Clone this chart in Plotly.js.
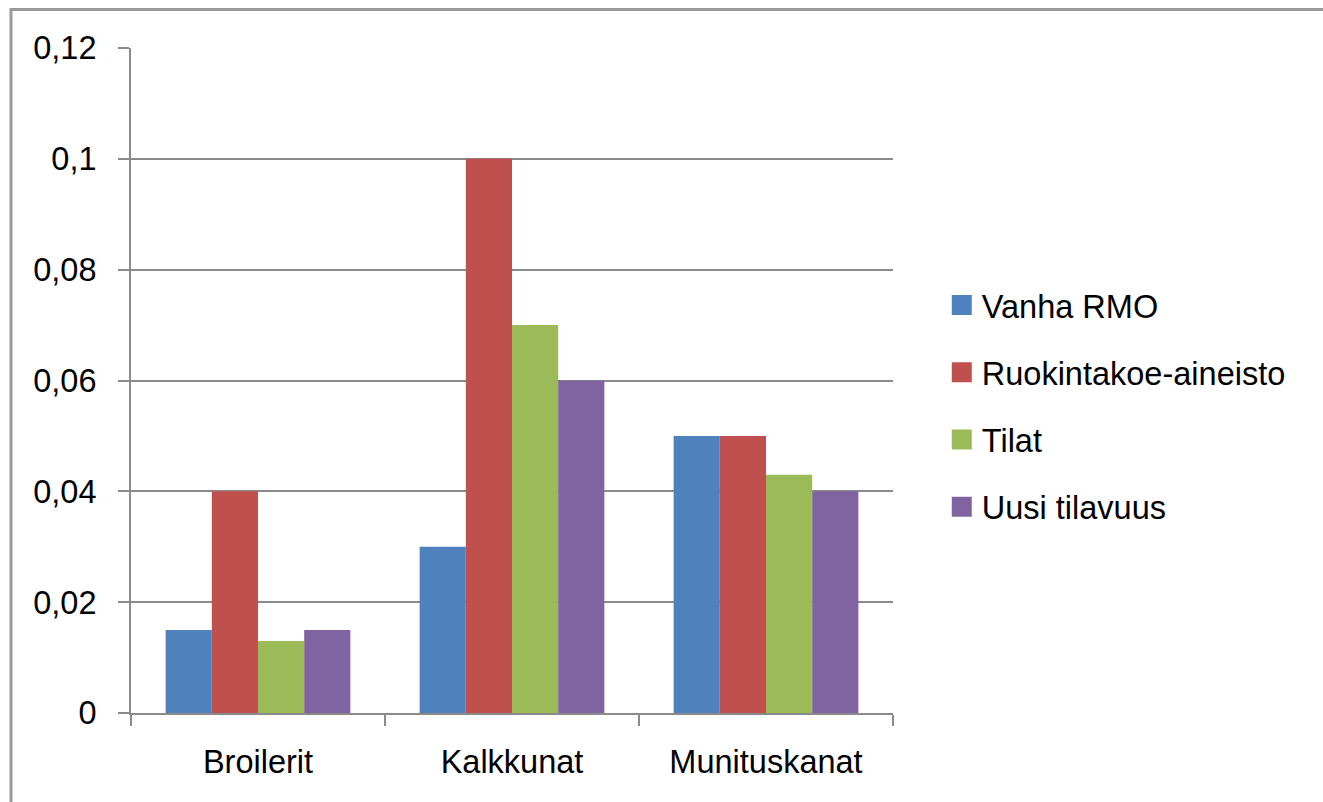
<!DOCTYPE html>
<html>
<head>
<meta charset="utf-8">
<script src="https://cdn.plot.ly/plotly-3.0.1.min.js"></script>
<style>
html,body{margin:0;padding:0;background:#fff;}
#chart{width:1323px;height:802px;}
</style>
</head>
<body>
<div id="chart"></div>
<script>
var categories = ["Broilerit", "Kalkkunat", "Munituskanat"];
var seriesNames = ["Vanha RMO", "Ruokintakoe-aineisto", "Tilat", "Uusi tilavuus"];
var vanhaRMO = [0.015, 0.03, 0.05];
var ruokintakoe = [0.04, 0.1, 0.05];
var tilat = [0.013, 0.07, 0.043];
var uusiTilavuus = [0.015, 0.06, 0.04];
var colors = ["#4F81BD", "#C0504D", "#9BBB59", "#8064A2"];

var values = [vanhaRMO, ruokintakoe, tilat, uusiTilavuus];
var traces = values.map(function (v, i) {
  return {
    type: "bar",
    x: categories,
    y: v,
    name: seriesNames[i],
    legendgroup: "g" + i,
    marker: {color: colors[i], line: {width: 0}},
    hoverinfo: "x+y+name"
  };
});

var fontFam = "Liberation Sans, Arial, sans-serif";
var gridCol = "#8a8a8a";
var fs = 32.5;

var layout = {
  width: 1323,
  height: 802,
  margin: {l: 131, r: 430, t: 48, b: 89},
  paper_bgcolor: "#fff",
  plot_bgcolor: "#fff",
  separators: ", ",
  barmode: "group",
  bargap: 0.2727,
  bargroupgap: 0,
  font: {family: fontFam, size: fs, color: "#000"},
  showlegend: true,
  legend: {
    x: 1.064, xanchor: "left",
    y: 0.462, yanchor: "middle",
    font: {family: fontFam, size: fs, color: "#000"},
    tracegroupgap: 22,
    bgcolor: "rgba(0,0,0,0)"
  },
  xaxis: {
    type: "category",
    range: [-0.5, 2.5],
    tickson: "boundaries",
    ticks: "outside",
    ticklen: 11,
    tickwidth: 2,
    tickcolor: gridCol,
    showline: true,
    linecolor: gridCol,
    linewidth: 2,
    showgrid: false,
    zeroline: false,
    ticklabelstandoff: 19,
    tickfont: {family: fontFam, size: fs, color: "#000"}
  },
  yaxis: {
    range: [0, 0.12],
    dtick: 0.02,
    tick0: 0,
    ticks: "outside",
    ticklen: 11,
    tickwidth: 2,
    tickcolor: gridCol,
    showline: true,
    linecolor: gridCol,
    linewidth: 2,
    showgrid: true,
    gridcolor: gridCol,
    gridwidth: 2,
    zeroline: false,
    ticklabelstandoff: 15,
    tickfont: {family: fontFam, size: fs, color: "#000"}
  },
  shapes: [{
    type: "rect", xref: "paper", yref: "paper",
    x0: -0.1575, x1: 1.7, y0: -0.3, y1: 1.058,
    line: {color: "#9a9a9a", width: 3},
    fillcolor: "rgba(0,0,0,0)",
    layer: "below"
  }]
};

Plotly.newPlot("chart", traces, layout, {displayModeBar: false, staticPlot: true}).then(function (gd) {
  var pts = gd.querySelectorAll(".legend .legendpoints path");
  pts.forEach(function (p) { p.setAttribute("d", "M10,10H-10V-10H10Z"); });
});
</script>
</body>
</html>
